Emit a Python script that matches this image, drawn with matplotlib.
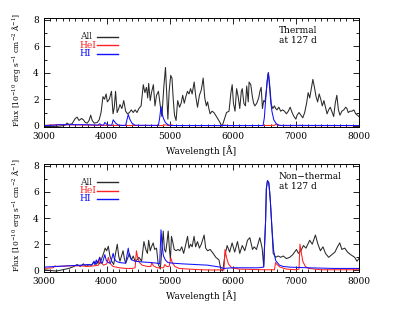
import matplotlib
matplotlib.use('Agg')
import matplotlib.pyplot as plt
from matplotlib.lines import Line2D
from matplotlib.ticker import MultipleLocator

# thermal panel, all lines
th_all_wl = [3000, 3100, 3200, 3300, 3340, 3370, 3400, 3450, 3500, 3530, 3560, 3600, 3630, 3660, 3690,
             3720, 3745, 3770, 3800, 3850, 3880, 3910, 3940, 3965, 3990, 4010, 4040, 4075, 4100, 4120,
             4140, 4165, 4190, 4210, 4240, 4270, 4300, 4330, 4360, 4390, 4420, 4450, 4480, 4510, 4545,
             4580, 4605, 4630, 4650, 4665, 4690, 4710, 4740, 4765, 4790, 4820, 4850, 4875, 4905, 4932,
             4950, 4970, 4990, 5015, 5035, 5055, 5075, 5100, 5125, 5155, 5180, 5205, 5230, 5255, 5280,
             5305, 5330, 5355, 5387, 5410, 5440, 5470, 5500, 5530, 5555, 5580, 5600, 5620, 5640, 5670,
             5700, 5740, 5790, 5830, 5860, 5900, 5940, 5970, 5990, 6010, 6035, 6060, 6085, 6110, 6135,
             6150, 6175, 6200, 6220, 6245, 6258, 6285, 6310, 6330, 6350, 6380, 6410, 6430, 6450, 6470,
             6490, 6510, 6530, 6555, 6565, 6585, 6610, 6635, 6660, 6680, 6700, 6730, 6760, 6790, 6820,
             6850, 6880, 6910, 6940, 6970, 7000, 7020, 7050, 7080, 7110, 7140, 7170, 7195, 7220, 7245,
             7270, 7295, 7320, 7345, 7370, 7395, 7420, 7445, 7470, 7495, 7520, 7545, 7570, 7600, 7625,
             7650, 7675, 7700, 7730, 7760, 7790, 7810, 7830, 7860, 7890, 7920, 7950, 7975, 8000]
th_all_flux = [0.0, -0.05, -0.05, 0.0, 0.05, 0.2, 0.1, 0.15, 0.55, 0.65, 0.4, 0.55, 0.45, 0.25, 0.2,
               0.4, 0.8, 0.4, 0.2, 0.25, 0.45, 1.0, 2.2, 2.0, 2.4, 1.8, 2.0, 2.6, 0.9, 1.4,
               2.6, 1.0, 1.3, 1.6, 1.3, 1.9, 1.1, 0.9, 1.0, 1.2, 1.0, 1.2, 1.0, 1.3, 1.5,
               3.1, 2.5, 2.9, 2.1, 3.2, 1.9, 2.5, 3.1, 1.5, 2.3, 2.6, 1.5, 0.7, 2.9, 4.4,
               2.6, 0.5, 2.6, 3.8, 3.6, 2.0, 0.8, 0.4, 1.9, 1.4, 1.7, 2.3, 1.7, 2.2, 2.6,
               2.4, 2.8, 2.4, 3.3, 2.3, 1.4, 2.3, 2.7, 3.6, 2.1, 1.5, 1.8, 1.3, 0.9, 1.1,
               1.0, 0.7, 0.3, -0.05, 0.4, 1.0, 1.1, 2.5, 3.1, 1.7, 1.1, 2.8, 2.2, 1.3, 2.6,
               2.8, 1.7, 1.5, 3.0, 1.8, 3.3, 3.1, 2.2, 1.7, 1.5, 1.7, 2.1, 2.6, 2.9, 1.3,
               1.9, 1.8, 2.6, 3.8, 4.0, 3.1, 1.6, 1.3, 1.5, 1.3, 1.2, 1.4, 1.1, 1.2, 1.1,
               0.9, 1.1, 1.4, 1.0, 0.7, 0.5, 0.8, 1.0, 0.8, 0.6, 1.0, 1.7, 2.5, 2.1, 2.8,
               3.5, 2.9, 2.2, 1.8, 2.4, 2.0, 1.5, 1.9, 1.4, 0.9, 1.2, 1.4, 1.1, 0.7, 1.7,
               2.3, 1.2, 0.8, 1.1, 1.2, 1.4, 1.3, 1.0, 1.1, 1.1, 1.2, 0.9, 0.8, 0.7]

# thermal panel, HeI
th_hei_wl = [3000, 3200, 3400, 3600, 3800, 4000, 4400, 4900, 4922, 4960, 5000, 5016, 5060, 5800,
             5876, 5920, 6500, 6660, 6678, 6720, 6800, 7050, 7065, 7100, 8000]
th_hei_flux = [0.02, 0.08, 0.08, 0.06, 0.04, 0.03, 0.02, 0.02, 0.08, 0.03, 0.02, 0.08, 0.02, 0.01,
               0.05, 0.01, 0.02, 0.03, 0.1, 0.04, 0.01, 0.01, 0.04, 0.01, 0.01]

# thermal panel, HI
th_hi_wl = [3000, 3150, 3250, 3700, 3860, 3889, 3920, 3950, 3970, 4010, 4080, 4102, 4140, 4190,
            4300, 4341, 4370, 4400, 4450, 4820, 4840, 4861, 4880, 4900, 4930, 4970, 5020, 6480,
            6500, 6520, 6545, 6563, 6580, 6600, 6620, 6650, 6690, 6740, 8000]
th_hi_flux = [0.02, 0.04, 0.08, 0.08, 0.05, 0.15, 0.05, 0.05, 0.25, 0.06, 0.04, 0.45, 0.2, 0.04,
              0.03, 0.85, 0.45, 0.2, 0.04, 0.03, 0.6, 1.45, 0.9, 0.55, 0.25, 0.08, 0.02, 0.02,
              0.6, 1.9, 3.4, 4.0, 3.1, 1.9, 1.1, 0.45, 0.15, 0.03, 0.02]

# non-thermal panel, all lines
nt_all_wl = [3000, 3100, 3200, 3300, 3400, 3480, 3530, 3580, 3630, 3680, 3720, 3760, 3800, 3830,
             3860, 3890, 3920, 3950, 3975, 4000, 4025, 4050, 4080, 4110, 4140, 4167, 4190, 4210,
             4235, 4259, 4280, 4300, 4330, 4360, 4390, 4420, 4450, 4480, 4510, 4553, 4590, 4620,
             4645, 4665, 4690, 4710, 4737, 4760, 4790, 4816, 4850, 4875, 4896, 4915, 4935, 4955,
             4975, 4995, 5010, 5027, 5050, 5070, 5100, 5130, 5160, 5190, 5220, 5250, 5282, 5305,
             5330, 5355, 5385, 5410, 5440, 5470, 5500, 5545, 5570, 5600, 5640, 5688, 5730, 5780,
             5810, 5840, 5873, 5910, 5950, 5989, 6030, 6074, 6110, 6150, 6190, 6233, 6270, 6312,
             6340, 6375, 6428, 6465, 6490, 6500, 6520, 6532, 6550, 6570, 6586, 6596, 6622, 6640,
             6680, 6720, 6760, 6800, 6850,
             6903, 6950, 7010, 7040, 7080, 7120, 7160, 7220, 7260, 7310, 7350, 7390, 7430, 7470,
             7520, 7570, 7620, 7660, 7696, 7730, 7775, 7820, 7870, 7933, 7970, 8000]
nt_all_flux = [0.05, 0.0, -0.05, 0.05, 0.15, 0.3, 0.45, 0.3, 0.5, 0.3, 0.45, 0.4, 0.65, 0.45,
               0.7, 0.5, 0.9, 1.3, 1.7, 1.5, 1.85, 1.1, 0.7, 0.45, 1.3, 2.0, 1.1, 0.7,
               1.1, 1.5, 0.9, 0.55, 0.9, 1.3, 0.8, 1.1, 0.7, 0.8, 1.0, 0.7, 2.2, 1.6,
               1.3, 2.3, 1.5, 1.8, 2.1, 1.6, 1.7, 0.5, 0.1, 1.6, 3.0, 1.6, 1.4, 2.1,
               3.0, 1.6, 0.8, 2.6, 2.1, 1.6, 1.5, 1.6, 1.5, 1.8, 1.3, 1.9, 2.6, 1.7,
               2.0, 1.8, 2.6, 1.8, 2.2, 1.7, 2.0, 2.7, 1.7, 1.5, 1.6, 1.3, 1.0, 0.8,
               0.1, -0.05, 1.1, 1.9, 1.4, 2.1, 1.4, 2.2, 1.3, 1.9, 1.5, 2.3, 2.5, 1.6,
               1.8, 1.6, 2.5, 1.7, 0.3, 1.5, 3.8, 6.25, 6.85, 6.7, 5.9, 5.25, 3.1, 1.3,
               1.0, 1.1, 1.0, 1.1, 0.9,
               1.0, 1.2, 1.6, 1.3, 1.5, 1.9, 1.7, 2.3, 2.0, 2.7, 2.0, 1.5, 1.8, 1.3,
               1.0, 1.2, 1.4, 1.8, 2.1, 1.6, 1.7, 1.4, 1.2, 1.0, 0.7, 0.9]

# non-thermal panel, HeI
nt_hei_wl = [3000, 3150, 3180, 3200, 3400, 3600, 3700, 3800, 3870, 3889, 3910, 3950, 4000, 4026,
             4050, 4100, 4200, 4300, 4400, 4450, 4471, 4490, 4520, 4560, 4650, 4700, 4713, 4740,
             4800, 4900, 4922, 4950, 4990, 5016, 5040, 5080, 5150, 5300, 5500, 5700, 5860, 5876,
             5900, 5930, 5980, 6100, 6500, 6660, 6678, 6700, 6750, 6850, 7000, 7050, 7065, 7085,
             7110, 7150, 7200, 7400, 8000]
nt_hei_flux = [0.15, 0.2, 0.35, 0.3, 0.35, 0.35, 0.3, 0.35, 0.4, 1.0, 0.6, 0.4, 0.5, 1.0,
               0.55, 0.3, 0.2, 0.15, 0.15, 0.2, 1.5, 1.0, 0.6, 0.4, 0.3, 0.3, 0.6, 0.35,
               0.2, 0.2, 0.45, 0.3, 0.3, 0.95, 0.6, 0.3, 0.15, 0.1, 0.05, 0.03, 0.05, 1.6,
               1.0, 0.5, 0.2, 0.1, 0.05, 0.05, 0.6, 0.45, 0.25, 0.1, 0.05, 0.1, 2.0, 1.4,
               0.7, 0.3, 0.15, 0.05, 0.05]

# non-thermal panel, HI
nt_hi_wl = [3000, 3200, 3400, 3600, 3700, 3760, 3798, 3810, 3835, 3850, 3889, 3910, 3930, 3970,
            3990, 4020, 4060, 4102, 4120, 4150, 4200, 4300, 4341, 4360, 4400, 4450, 4550, 4700,
            4800, 4840, 4861, 4880, 4900, 4930, 4970, 5050, 5200, 5400, 5600, 5800, 5850, 6000,
            6200, 6400, 6490, 6500, 6520, 6532, 6550, 6570, 6586, 6596, 6622, 6648, 6680, 6740,
            6800, 6900, 7200, 7600, 8000]
nt_hi_flux = [0.25, 0.3, 0.35, 0.4, 0.45, 0.4, 0.7, 0.45, 0.8, 0.55, 1.0, 0.6, 0.55, 1.2,
              0.8, 0.6, 0.55, 1.3, 0.9, 0.7, 0.6, 0.55, 1.7, 1.1, 0.8, 0.7, 0.65, 0.6,
              0.55, 0.5, 3.1, 1.8, 1.1, 0.8, 0.6, 0.55, 0.5, 0.45, 0.4, 0.25, 0.15, 0.2,
              0.2, 0.2, 0.25, 1.5, 3.8, 6.25, 6.85, 6.7, 5.9, 5.25, 3.1, 1.5, 0.75, 0.4,
              0.3, 0.25, 0.2, 0.15, 0.15]

series_labels = ['All', 'HeI', 'HI']
wl_ticks = [3000, 4000, 5000, 6000, 7000, 8000]
flux_ticks = [0, 2, 4, 6, 8]

plt.rcParams['font.family'] = 'DejaVu Serif'
plt.rcParams['mathtext.fontset'] = 'dejavuserif'
FS = 6.5
COLORS = ['#2a2a2a', '#ff2020', '#1010ff']


def style_axes(ax, note):
    ax.set_xlim(3000, 8000)
    ax.set_ylim(-0.1, 8.1)
    ax.set_xticks(wl_ticks)
    ax.set_yticks(flux_ticks)
    ax.xaxis.set_minor_locator(MultipleLocator(100))
    ax.yaxis.set_minor_locator(MultipleLocator(1))
    ax.tick_params(which='both', direction='in', top=True, right=True, labelsize=FS, width=0.6)
    ax.tick_params(which='major', length=4)
    ax.tick_params(which='minor', length=2)
    for s in ax.spines.values():
        s.set_linewidth(0.7)
    ax.set_xlabel('Wavelength [Å]', fontsize=FS)
    ax.set_ylabel(r'Flux [10$^{-10}$ erg s$^{-1}$ cm$^{-2}$ Å$^{-1}$]', fontsize=5.4)
    ax.xaxis.set_label_coords(0.5, -0.17)
    ax.yaxis.set_label_coords(-0.065, 0.53)
    ax.text(0.745, 0.93, note, transform=ax.transAxes, fontsize=FS, ha='left', va='top',
            linespacing=1.1)

    # IDL-style key: label on the left, sample line on the right
    for i, (lab, col) in enumerate(zip(series_labels, COLORS)):
        y = 0.831 - i * 0.077
        ax.text(0.115, y, lab, transform=ax.transAxes, fontsize=FS, color=col,
                ha='left', va='center')
        ax.add_line(Line2D([0.168, 0.237], [y, y], transform=ax.transAxes, color=col, lw=1.0))


fig = plt.figure(figsize=(3.99, 3.10), dpi=100)
ax_top = fig.add_axes([0.1095, 0.590, 0.790, 0.3506])
ax_bot = fig.add_axes([0.1095, 0.1235, 0.790, 0.3465])

for wl, fl, col in [(th_all_wl, th_all_flux, COLORS[0]),
                    (th_hei_wl, th_hei_flux, COLORS[1]),
                    (th_hi_wl, th_hi_flux, COLORS[2])]:
    ax_top.plot(wl, fl, color=col, lw=0.75)
style_axes(ax_top, 'Thermal\nat 127 d')

for wl, fl, col in [(nt_all_wl, nt_all_flux, COLORS[0]),
                    (nt_hei_wl, nt_hei_flux, COLORS[1]),
                    (nt_hi_wl, nt_hi_flux, COLORS[2])]:
    ax_bot.plot(wl, fl, color=col, lw=0.75)
style_axes(ax_bot, 'Non\u2212thermal\nat 127 d')

fig.savefig('out.png', dpi=100)
